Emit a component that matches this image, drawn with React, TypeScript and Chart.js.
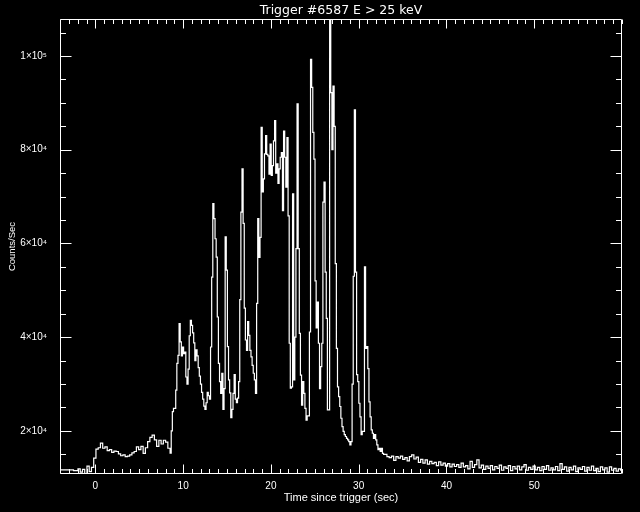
import React, { useEffect, useRef } from 'react';
import { Chart, registerables } from 'chart.js';

Chart.register(...registerables);

const TITLE = 'Trigger #6587 E > 25 keV';
const X_TITLE = 'Time since trigger (sec)';
const Y_TITLE = 'Counts/Sec';

const X_MIN = -4.03;
const X_MAX = 60.0;
const Y_MIN = 10800;
const Y_MAX = 107900;

const xTickValues = [0, 10, 20, 30, 40, 50];
const xTickLabels = ['0', '10', '20', '30', '40', '50'];
const yTickValues = [20000, 40000, 60000, 80000, 100000];
const yTickLabels = ['2×10⁴', '4×10⁴', '6×10⁴', '8×10⁴', '1×10⁵'];
const xMinorStep = 1;
const yMinorStep = 5000;

// Pre-burst segment (bin width 0.256 s)
const preStart = -4.03;
const preBin = 0.256;
const preCounts = [
  11700, 11700, 11700, 11700, 11700, 11700, 11500, 11500, 11900, 11200,
  11800, 10800, 12500, 11300, 12200, 14200, 16100, 16400, 17400, 16300,
  16600, 15800, 16000, 15400, 15700, 15600, 15100, 14700, 14900, 14500,
  14600, 14900, 15300, 15600, 16600, 16000, 16700, 15200, 16400, 17700,
  18600, 19100, 18100, 16700, 18000, 17200, 18000, 17600, 16300,
];

// Main burst segment (bin width 0.128 s)
const burstStart = 8.514;
const burstBin = 0.128;
const burstCounts = [
  15250, 20000, 24100, 24800, 24800, 28700, 34400, 36100, 42900, 39000,
  36000, 37900, 36500, 36800, 31500, 30000, 33200, 40300, 43600, 42500,
  40900, 38800, 35000, 37300, 36000, 33500, 31700, 30000, 28200, 26800,
  25300, 24600, 26000, 28200, 27500, 26800, 37900, 52800, 68500, 65300,
  61000, 57100, 44300, 34400, 30500, 28000, 32300, 24600, 29000, 61400,
  54300, 38000, 30900, 28100, 22800, 24600, 28000, 32000, 26800, 26000,
  27000, 30500, 48000, 66700, 75900, 64300, 46200, 39400, 37200, 43300,
  40400, 37200, 35800, 34000, 32300, 30900, 28000, 47200, 65300, 57000,
  61300, 84800, 71000, 73800, 79100, 83000, 79000, 78700, 74800, 81200,
  74500, 76600, 81900, 86200, 75000, 77000, 72800, 75900, 78400, 79400,
  67000, 84000, 78400, 72000, 82600, 65900, 38700, 29100, 29400, 70600,
  30900, 40000, 58900, 89800, 58900, 40800, 31900, 25500, 30500, 28000,
  24800, 22300, 23200, 23200, 41100, 99300, 93300, 83700, 78000, 52000,
  42000, 47500, 38700, 29000, 33700, 38700, 68800, 73100, 53900, 44000,
  24500, 24500, 107900, 92200, 80000, 93600, 85000, 55700, 37600, 29400,
  27300, 25200, 22700, 20900, 19900, 19200, 18800, 18400, 18100, 17700,
  17000, 17700, 30000, 53000, 88500, 53900, 32000, 30500, 25900, 23000,
  19200, 19900, 19900, 55000, 37600, 38000, 33300, 26200, 23000, 20200,
  19500, 18400, 19200, 18100, 17000, 16000, 16300, 15600, 16300, 15200,
  15000,
];

// Decay / background segment (bin width 0.256 s)
const tailStart = 32.962;
const tailBin = 0.256;
const tailCounts = [
  15000, 14500, 14300, 14600, 13700, 14500, 14200, 14600, 13900, 14300,
  13600, 14500, 14900, 14000, 14400, 13300, 13900, 13100, 13800, 12900,
  13500, 13000, 13300, 12600, 13400, 12700, 13100, 12500, 13000, 12300,
  12900, 12400, 12800, 12200, 13100, 12300, 12600, 11900, 13500, 12200,
  12800, 13800, 12100, 12700, 11800, 12500, 12000, 12600, 11700, 12400,
  12000, 12700, 11600, 12300, 12000, 12600, 11500, 12400, 11900, 12500,
  11700, 12300, 12800, 11600, 12200, 11800, 12500, 11700, 12200, 11500,
  12400, 11800, 12600, 11600, 12100, 11700, 12400, 11500, 13000, 11800,
  12300, 11400, 12200, 11700, 12500, 11300, 12100, 11800, 12400, 11400,
  12200, 11600, 12500, 11500, 12000, 11300, 12300, 11700, 12100, 11200,
  12300, 11600, 12000, 11400, 11900, 11600,
];

type Pt = { x: number; y: number };

function segmentPoints(start: number, bin: number, counts: number[]): Pt[] {
  return counts.map((c, i) => ({ x: start + i * bin, y: c }));
}

function buildPoints(): Pt[] {
  const pts = [
    ...segmentPoints(preStart, preBin, preCounts),
    ...segmentPoints(burstStart, burstBin, burstCounts),
    ...segmentPoints(tailStart, tailBin, tailCounts),
  ];
  pts.push({ x: tailStart + tailCounts.length * tailBin, y: tailCounts[tailCounts.length - 1] });
  return pts;
}

const framePlugin = {
  id: 'idlFrame',
  afterDatasetsDraw(chart: any) {
    const { ctx, chartArea: a, scales } = chart;
    const xs = scales.x;
    const ys = scales.y;
    const L = Math.round(a.left) + 0.5;
    const R = Math.round(a.right) - 0.5;
    const T = Math.round(a.top) + 0.5;
    const B = Math.round(a.bottom) - 0.5;
    ctx.save();
    ctx.strokeStyle = '#ffffff';
    ctx.lineWidth = 1;
    ctx.beginPath();
    ctx.rect(L, T, R - L, B - T);
    for (let v = Math.ceil(X_MIN / xMinorStep) * xMinorStep; v <= X_MAX; v += xMinorStep) {
      const px = Math.round(xs.getPixelForValue(v)) + 0.5;
      const len = xTickValues.includes(v) ? 9 : 4.5;
      ctx.moveTo(px, B);
      ctx.lineTo(px, B - len);
      ctx.moveTo(px, T);
      ctx.lineTo(px, T + len);
    }
    for (let v = Math.ceil(Y_MIN / yMinorStep) * yMinorStep; v <= Y_MAX; v += yMinorStep) {
      const py = Math.round(ys.getPixelForValue(v)) + 0.5;
      const len = yTickValues.includes(v) ? 11 : 5.5;
      ctx.moveTo(L, py);
      ctx.lineTo(L + len, py);
      ctx.moveTo(R, py);
      ctx.lineTo(R - len, py);
    }
    ctx.stroke();
    ctx.restore();
  },
};

const tickFont = { family: '"Liberation Sans", "DejaVu Sans", sans-serif', size: 10, weight: 'normal' as const };

export default function App() {
  const ref = useRef<HTMLCanvasElement>(null);

  useEffect(() => {
    document.body.style.margin = '0';
    document.body.style.background = '#000';
    const canvas = ref.current;
    if (!canvas) return;
    const chart = new Chart(canvas, {
      type: 'line',
      data: {
        datasets: [
          {
            data: buildPoints(),
            borderColor: '#ffffff',
            borderWidth: 1.2,
            pointRadius: 0,
            stepped: true,
            fill: false,
            tension: 0,
          },
        ],
      },
      options: {
        responsive: false,
        animation: false,
        devicePixelRatio: 1,
        layout: { padding: { left: 0, right: 18, top: 0, bottom: 0 } },
        plugins: {
          legend: { display: false },
          tooltip: { enabled: false },
          title: {
            display: true,
            text: TITLE,
            color: '#ffffff',
            fullSize: false,
            font: { family: '"DejaVu Sans", sans-serif', size: 12.5, weight: 'normal' },
            padding: { top: 1, bottom: 1 },
          },
        },
        scales: {
          x: {
            type: 'linear',
            min: X_MIN,
            max: X_MAX,
            afterFit: (s: any) => {
              s.height = 38;
            },
            afterBuildTicks: (s: any) => {
              s.ticks = xTickValues.map((value) => ({ value }));
            },
            ticks: {
              color: '#ffffff',
              font: tickFont,
              padding: 6,
              autoSkip: false,
              maxRotation: 0,
              callback: (_v: any, i: number) => xTickLabels[i],
            },
            grid: { display: false, drawTicks: false },
            border: { display: false },
            title: {
              display: true,
              text: X_TITLE,
              color: '#ffffff',
              font: { family: '"Liberation Sans", sans-serif', size: 11, weight: 'normal' },
              padding: { top: 0, bottom: 7.4 },
            },
          },
          y: {
            type: 'linear',
            min: Y_MIN,
            max: Y_MAX,
            afterFit: (s: any) => {
              s.width = 60;
            },
            afterBuildTicks: (s: any) => {
              s.ticks = yTickValues.map((value) => ({ value }));
            },
            ticks: {
              color: '#ffffff',
              font: tickFont,
              padding: 13,
              autoSkip: false,
              callback: (_v: any, i: number) => yTickLabels[i],
            },
            grid: { display: false, drawTicks: false },
            border: { display: false },
            title: {
              display: true,
              text: Y_TITLE,
              color: '#ffffff',
              font: { family: '"Liberation Sans", sans-serif', size: 9.5, weight: 'normal' },
              padding: { top: 6.3, bottom: 0 },
            },
          },
        },
      },
      plugins: [framePlugin],
    });
    return () => chart.destroy();
  }, []);

  return (
    <div style={{ position: 'absolute', left: 0, top: 0, width: 640, height: 512, background: '#000' }}>
      <canvas ref={ref} width={640} height={512} style={{ display: 'block' }} />
    </div>
  );
}
